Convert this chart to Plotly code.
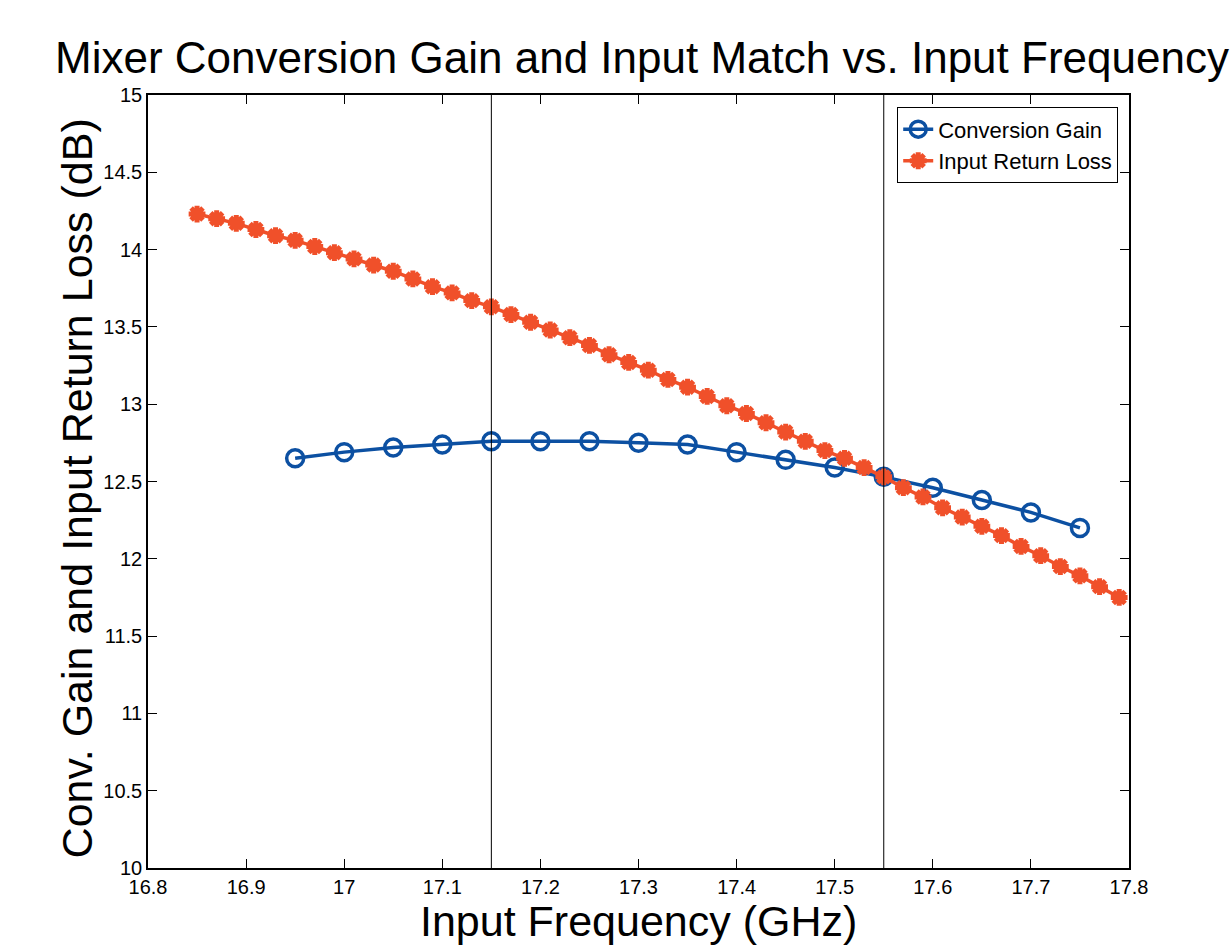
import plotly.graph_objects as go

# ---- data ----
gain_freq = [16.95, 17.00, 17.05, 17.10, 17.15, 17.20, 17.25, 17.30, 17.35,
             17.40, 17.45, 17.50, 17.55, 17.60, 17.65, 17.70, 17.75]
gain_db = [12.65, 12.69, 12.72, 12.74, 12.76, 12.76, 12.76, 12.75, 12.74,
           12.69, 12.64, 12.59, 12.53, 12.46, 12.38, 12.30, 12.20]

rl_freq = [16.85, 16.87, 16.89, 16.91, 16.93, 16.95, 16.97, 16.99, 17.01, 17.03,
           17.05, 17.07, 17.09, 17.11, 17.13, 17.15, 17.17, 17.19, 17.21, 17.23,
           17.25, 17.27, 17.29, 17.31, 17.33, 17.35, 17.37, 17.39, 17.41, 17.43,
           17.45, 17.47, 17.49, 17.51, 17.53, 17.55, 17.57, 17.59, 17.61, 17.63,
           17.65, 17.67, 17.69, 17.71, 17.73, 17.75, 17.77, 17.79]
rl_db = [14.23, 14.20, 14.17, 14.13, 14.09, 14.06, 14.02, 13.98, 13.94, 13.90,
         13.86, 13.81, 13.76, 13.72, 13.67, 13.63, 13.58, 13.53, 13.48, 13.43,
         13.38, 13.32, 13.27, 13.22, 13.16, 13.11, 13.05, 12.99, 12.94, 12.88,
         12.82, 12.76, 12.70, 12.65, 12.59, 12.53, 12.46, 12.40, 12.33, 12.27,
         12.21, 12.15, 12.08, 12.02, 11.95, 11.89, 11.82, 11.75]

band_edges = [17.15, 17.55]

x_ticks = [16.8, 16.9, 17.0, 17.1, 17.2, 17.3, 17.4, 17.5, 17.6, 17.7, 17.8]
x_tick_labels = ["16.8", "16.9", "17", "17.1", "17.2", "17.3", "17.4", "17.5", "17.6", "17.7", "17.8"]
y_ticks = [10, 10.5, 11, 11.5, 12, 12.5, 13, 13.5, 14, 14.5, 15]
y_tick_labels = ["10", "10.5", "11", "11.5", "12", "12.5", "13", "13.5", "14", "14.5", "15"]

BLUE = "rgb(12,80,162)"
ORANGE = "rgb(240,80,42)"
FONT = "Liberation Sans, Arial, Helvetica, sans-serif"

fig = go.Figure()
fig.add_trace(go.Scatter(
    x=gain_freq, y=gain_db, name="Conversion Gain", mode="lines+markers",
    line=dict(color=BLUE, width=3.5),
    marker=dict(symbol="circle-open", size=17, color=BLUE, line=dict(width=3.5, color=BLUE)),
))
fig.add_trace(go.Scatter(
    x=rl_freq, y=rl_db, name="Input Return Loss", mode="lines+markers",
    line=dict(color=ORANGE, width=3.5),
    marker=dict(symbol="asterisk-open", size=14, color=ORANGE, line=dict(width=5, color=ORANGE)),
))

for xv in band_edges:
    fig.add_vline(x=xv, line=dict(color="black", width=1))

axis_common = dict(
    showline=True, linecolor="black", linewidth=1.5, mirror="ticks",
    ticks="inside", ticklen=9, tickcolor="black", tickwidth=1,
    showgrid=False, zeroline=False,
    tickfont=dict(family=FONT, size=20, color="black"),
)

fig.update_xaxes(range=[16.8, 17.8], tickvals=x_ticks, ticktext=x_tick_labels, ticklabelstandoff=0, **axis_common)
fig.update_yaxes(range=[10, 15], tickvals=y_ticks, ticktext=y_tick_labels, ticklabelstandoff=0, **axis_common)

fig.update_layout(
    width=1232, height=949,
    paper_bgcolor="white", plot_bgcolor="white",
    margin=dict(l=148, r=103, t=95, b=81),
    font=dict(family=FONT, color="black"),
    title=dict(text="Mixer Conversion Gain and Input Match vs. Input Frequency",
               x=55 / 1232, xanchor="left", xref="container",
               y=1 - 58 / 949, yanchor="middle", yref="container",
               font=dict(family=FONT, size=44, color="black")),
    legend=dict(x=0.989, xanchor="right", y=0.984, yanchor="top",
                bgcolor="white", bordercolor="black", borderwidth=1,
                font=dict(family=FONT, size=22, color="black"),
                tracegroupgap=0),
    showlegend=True,
    annotations=[
        dict(text="Input Frequency (GHz)", xref="paper", yref="paper",
             x=0.5, y=-0.0686, xanchor="center", yanchor="middle", showarrow=False,
             font=dict(family=FONT, size=43, color="black")),
        dict(text="Conv. Gain and Input Return Loss (dB)", xref="paper", yref="paper",
             x=-0.0714, y=0.491, xanchor="center", yanchor="middle", showarrow=False,
             textangle=-90, font=dict(family=FONT, size=43, color="black")),
    ],
)

fig.write_html("out.html", config={"displayModeBar": False},
               post_script="document.body.style.margin='0';")
